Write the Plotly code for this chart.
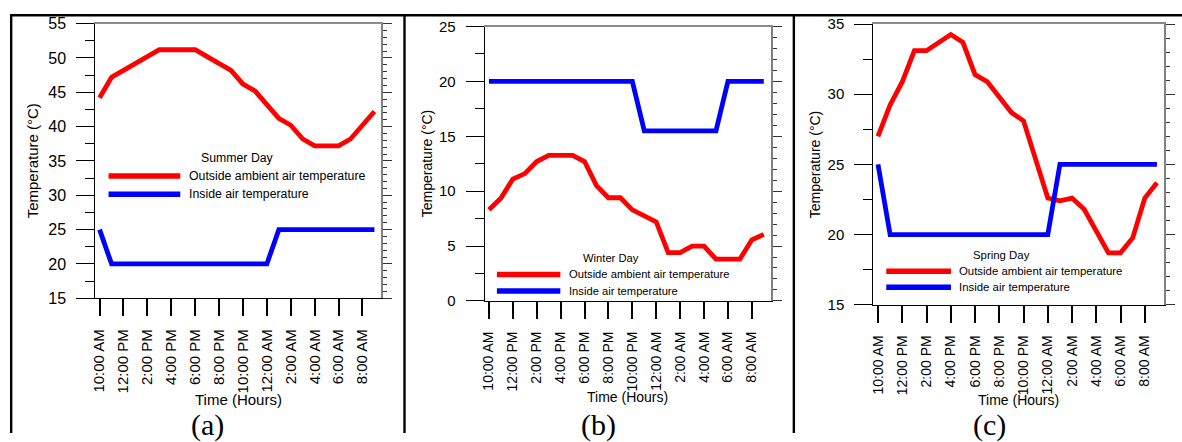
import plotly.graph_objects as go

W, H = 1182, 442

# ---------------- data ----------------
hours = list(range(24))  # hourly readings starting at 10:00 AM
tick_hours = hours[::2]
time_labels = ["10:00 AM", "12:00 PM", "2:00 PM", "4:00 PM", "6:00 PM", "8:00 PM",
               "10:00 PM", "12:00 AM", "2:00 AM", "4:00 AM", "6:00 AM", "8:00 AM"]

summer_outside = [44.2, 47.2, 48.2, 49.2, 50.2, 51.2, 51.2, 51.2, 51.2, 50.2, 49.2, 48.2,
                  46.2, 45.2, 43.2, 41.2, 40.2, 38.2, 37.2, 37.2, 37.2, 38.2, 40.2, 42.2]
summer_inside = [25, 20, 20, 20, 20, 20, 20, 20, 20, 20, 20, 20,
                 20, 20, 20, 25, 25, 25, 25, 25, 25, 25, 25, 25]

winter_outside = [8.3, 9.35, 11.1, 11.6, 12.7, 13.26, 13.26, 13.26, 12.7, 10.5, 9.4, 9.4,
                  8.3, 7.7, 7.2, 4.4, 4.4, 5.0, 5.0, 3.8, 3.8, 3.8, 5.57, 6.06]
winter_inside = [20, 20, 20, 20, 20, 20, 20, 20, 20, 20, 20, 20,
                 20, 15.5, 15.5, 15.5, 15.5, 15.5, 15.5, 15.5, 20, 20, 20, 20]

spring_outside = [27.0, 29.24, 30.88, 33.1, 33.1, 33.7, 34.25, 33.7, 31.4, 30.9, 29.8, 28.7,
                  28.1, 25.4, 22.6, 22.4, 22.6, 21.8, 20.3, 18.7, 18.7, 19.76, 22.6, 23.7]
spring_inside = [25, 20, 20, 20, 20, 20, 20, 20, 20, 20, 20, 20,
                 20, 20, 20, 25, 25, 25, 25, 25, 25, 25, 25, 25]

series_names = ["Outside ambient air temperature", "Inside air temperature"]
panel_titles = ["Summer Day", "Winter Day", "Spring Day"]
captions = ["(a)", "(b)", "(c)"]
y_ranges = [(15, 55), (0, 25), (15, 35)]
x_title = "Time (Hours)"
y_title = "Temperature (°C)"

panels_data = [
    (summer_outside, summer_inside),
    (winter_outside, winter_inside),
    (spring_outside, spring_inside),
]

# ---------------- geometry / style (page pixels) ----------------
geo = [
    dict(l=90.7, r=378.0, t=15.3, b=301.5, x0=95.0, step=12.0, tick=15, title=15, leg=12.3,
         ytx=28.5, xty=407.0, leg_title=(233, 155), leg_line=(104, 176), leg_y=(174, 193),
         leg_text_x=183, cap=(203, 434)),
    dict(l=481.7, r=769.3, t=18.3, b=304.3, x0=486.0, step=12.0, tick=14, title=14, leg=11.2,
         ytx=423.3, xty=404.7, leg_title=(609, 260), leg_line=(494, 557.7), leg_y=(276.7, 294),
         leg_text_x=564, cap=(596, 434)),
    dict(l=872.0, r=1164.0, t=15.7, b=308.3, x0=876.7, step=12.18, tick=14, title=14, leg=11.4,
         ytx=814.3, xty=408.0, leg_title=(1001, 256.7), leg_line=(885, 950), leg_y=(273.3, 290),
         leg_text_x=955.7, cap=(989, 434)),
]

RED = "#ff0000"
BLUE = "#0000ff"
CLEAR = "rgba(0,0,0,0)"
FONT = "Liberation Sans, Arial, sans-serif"


def px(x):
    return x / W


def py(y):
    return 1 - y / H


fig = go.Figure()
layout = dict(width=W, height=H, margin=dict(l=0, r=0, t=0, b=0),
              paper_bgcolor="white", plot_bgcolor="white", showlegend=False)
shapes = []
annotations = []

for i, ((outside, inside), g) in enumerate(zip(panels_data, geo)):
    n = i + 1
    xs = "" if n == 1 else str(n)
    xr = "x" + xs
    yr = "y" + xs
    top_x = str(n + 3)     # top frame line
    right_y = str(n + 3)   # right axis with fine ticks
    bot_x = str(n + 6)     # visible bottom tick marks
    left_y = str(n + 6)    # visible left major tick marks

    fig.add_trace(go.Scatter(x=hours, y=outside, mode="lines", name=series_names[0],
                             line=dict(color=RED, width=4.8), xaxis=xr, yaxis=yr))
    fig.add_trace(go.Scatter(x=hours, y=inside, mode="lines", name=series_names[1],
                             line=dict(color=BLUE, width=4.8), xaxis=xr, yaxis=yr))
    # hidden traces so the overlay axes get drawn
    for xa, ya in [(xr, "y" + right_y), ("x" + top_x, yr), ("x" + bot_x, yr), (xr, "y" + left_y)]:
        fig.add_trace(go.Scatter(x=[None], y=[None], xaxis=xa, yaxis=ya,
                                 showlegend=False, hoverinfo="skip"))

    xrange = [(g["l"] - g["x0"]) / g["step"], (g["r"] - g["x0"]) / g["step"]]
    xdom = [px(g["l"]), px(g["r"])]
    ydom = [py(g["b"]), py(g["t"])]
    ymin, ymax = y_ranges[i]

    # main x axis: carries the labels (transparent long ticks push labels away)
    layout["xaxis" + xs] = dict(
        domain=xdom, anchor=yr, range=xrange, showgrid=False, zeroline=False,
        tickmode="array", tickvals=tick_hours, ticktext=time_labels, tickangle=-90,
        ticks="outside", ticklen=24, tickwidth=1, tickcolor=CLEAR,
        showline=True, linecolor="black", linewidth=1,
        tickfont=dict(family=FONT, size=g["tick"], color="black"),
    )
    layout["xaxis" + bot_x] = dict(
        overlaying=xr, anchor=yr, side="bottom", range=xrange, showgrid=False,
        zeroline=False, showticklabels=False, tickmode="array", tickvals=tick_hours,
        ticks="outside", ticklen=17, tickwidth=2, tickcolor="black", showline=False,
    )
    layout["xaxis" + top_x] = dict(
        overlaying=xr, anchor=yr, side="top", range=xrange, showgrid=False,
        zeroline=False, showticklabels=False, ticks="",
        showline=True, linecolor="#8a8a8a", linewidth=1.5,
    )
    # main y axis: labels + minor ticks
    layout["yaxis" + xs] = dict(
        domain=ydom, anchor=xr, range=[ymin, ymax], showgrid=False, zeroline=False,
        tickmode="linear", tick0=ymin, dtick=5,
        ticks="outside", ticklen=25, tickwidth=1, tickcolor=CLEAR,
        minor=dict(dtick=2.5, ticks="outside", ticklen=9, tickwidth=1, tickcolor="black"),
        showline=True, linecolor="black", linewidth=1,
        tickfont=dict(family=FONT, size=g["tick"] + 1, color="black"),
    )
    layout["yaxis" + left_y] = dict(
        overlaying=yr, anchor=xr, side="left", range=[ymin, ymax], showgrid=False,
        zeroline=False, showticklabels=False, tickmode="linear", tick0=ymin, dtick=5,
        ticks="outside", ticklen=18, tickwidth=1, tickcolor="black", showline=False,
    )
    layout["yaxis" + right_y] = dict(
        overlaying=yr, anchor=xr, side="right", range=[ymin, ymax], showgrid=False,
        zeroline=False, showticklabels=False, tickmode="linear", tick0=ymin, dtick=5,
        ticks="outside", ticklen=9, tickwidth=1, tickcolor="#333333",
        minor=dict(dtick=1, ticks="outside", ticklen=4, tickwidth=1, tickcolor="#333333"),
        showline=True, linecolor="#808080", linewidth=2,
    )

    # axis titles
    annotations.append(dict(text=y_title, x=px(g["ytx"]), y=py((g["t"] + g["b"]) / 2),
                            xref="paper", yref="paper", showarrow=False, textangle=-90,
                            xanchor="center", yanchor="middle",
                            font=dict(family=FONT, size=g["title"], color="black")))
    annotations.append(dict(text=x_title, x=px((g["l"] + g["r"]) / 2), y=py(g["xty"]),
                            xref="paper", yref="paper", showarrow=False,
                            xanchor="center", yanchor="middle",
                            font=dict(family=FONT, size=g["title"], color="black")))
    # legend
    annotations.append(dict(text=panel_titles[i], x=px(g["leg_title"][0]), y=py(g["leg_title"][1]),
                            xref="paper", yref="paper", showarrow=False,
                            xanchor="center", yanchor="middle",
                            font=dict(family=FONT, size=g["leg"], color="black")))
    for name, color, ly in zip(series_names, [RED, BLUE], g["leg_y"]):
        shapes.append(dict(type="line", xref="paper", yref="paper",
                           x0=px(g["leg_line"][0]), x1=px(g["leg_line"][1]),
                           y0=py(ly), y1=py(ly), line=dict(color=color, width=5.5)))
        annotations.append(dict(text=name, x=px(g["leg_text_x"]), y=py(ly),
                                xref="paper", yref="paper", showarrow=False,
                                xanchor="left", yanchor="middle",
                                font=dict(family=FONT, size=g["leg"], color="black")))
    # caption
    annotations.append(dict(text=captions[i], x=px(g["cap"][0]), y=py(g["cap"][1]),
                            xref="paper", yref="paper", showarrow=False,
                            xanchor="center", yanchor="middle",
                            font=dict(family="Liberation Serif, Times New Roman, serif",
                                      size=30, color="black")))

# outer frame and panel dividers
shapes.append(dict(type="line", xref="paper", yref="paper", x0=px(5), x1=1,
                   y0=py(6.5), y1=py(6.5), line=dict(color="black", width=2.5)))
for fx in [6.2, 401.2, 792.2]:
    shapes.append(dict(type="line", xref="paper", yref="paper", x0=px(fx), x1=px(fx),
                       y0=py(5.3), y1=0, line=dict(color="black", width=2.4)))

layout["shapes"] = shapes
layout["annotations"] = annotations
fig.update_layout(**layout)
fig.write_html("out.html")
